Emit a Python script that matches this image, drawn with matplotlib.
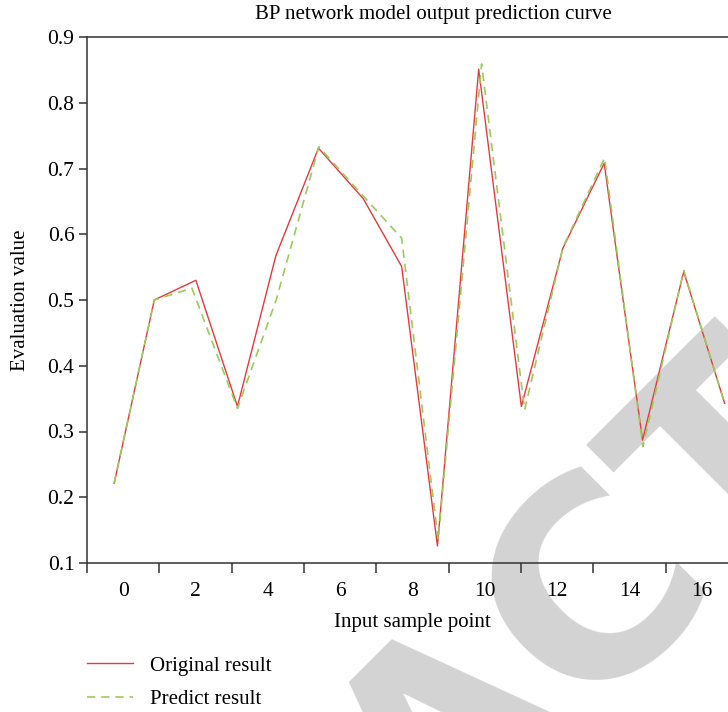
import matplotlib
matplotlib.use("Agg")
import matplotlib.pyplot as plt

# ---- data ----
x_orig = [-0.25, 0.86, 2.01, 3.16, 4.22, 5.40, 6.64, 7.70, 8.69, 9.83, 11.01, 12.16, 13.30, 14.36, 15.50, 16.63]
y_orig = [0.221, 0.500, 0.530, 0.338, 0.567, 0.731, 0.654, 0.551, 0.126, 0.851, 0.338, 0.579, 0.708, 0.287, 0.543, 0.343]

x_pred = [-0.25, 0.86, 1.90, 3.16, 4.23, 5.41, 6.64, 7.70, 8.71, 9.91, 11.10, 12.16, 13.31, 14.37, 15.50, 16.63]
y_pred = [0.221, 0.500, 0.518, 0.335, 0.500, 0.733, 0.658, 0.594, 0.135, 0.859, 0.333, 0.580, 0.716, 0.277, 0.545, 0.343]

tick_major = [-1, 1, 3, 5, 7, 9, 11, 13, 15, 17]
tick_labels_pos = [0, 2, 4, 6, 8, 10, 12, 14, 16]
y_ticks = [0.1, 0.2, 0.3, 0.4, 0.5, 0.6, 0.7, 0.8, 0.9]

plt.rcParams['font.family'] = ['Liberation Serif', 'DejaVu Serif']

W, H = 728, 712
fig = plt.figure(figsize=(W / 100, H / 100), dpi=100)

# axes: left spine at x=87px, top 37px, bottom 563px, right (offscreen) 738px
ax = fig.add_axes([87 / W, 1 - 563 / H, (738 - 87) / W, (563 - 37) / H])
ax.set_facecolor('none')

# watermark behind everything
fig.text(453 / W, 1 - 727 / H, 'RETRACTED', rotation=45, rotation_mode='anchor',
         ha='center', va='center', fontsize=195, fontweight='bold',
         family='DejaVu Sans', color='#d3d3d3', zorder=-5)

ax.plot(x_orig, y_orig, color='#e8393a', lw=1.0, label='Original result')
ax.plot(x_pred, y_pred, color='#9ccb5c', lw=1.2, ls=(0, (5, 3.5)), label='Predict result')

ax.set_xlim(-1, 17)
ax.set_ylim(0.1, 0.9)

ax.set_xticks(tick_major)
ax.set_xticklabels([''] * len(tick_major))
ax.set_xticks(tick_labels_pos, minor=True)
ax.set_xticklabels([str(v) for v in tick_labels_pos], minor=True)
ax.tick_params(axis='x', which='major', length=7, width=1.1, color='#333333', direction='out')
ax.tick_params(axis='x', which='minor', length=0, pad=14, labelsize=15.5)

ax.set_yticks(y_ticks)
ax.set_yticklabels(['%.1f' % v for v in y_ticks])
ax.tick_params(axis='y', length=5.5, width=1.1, color='#333333', pad=3.5, labelsize=15.5)

for s in ['left', 'bottom', 'top', 'right']:
    ax.spines[s].set_color('#333333')
    ax.spines[s].set_linewidth(1.1)

ax.set_xlabel('Input sample point', fontsize=15, labelpad=8)
ax.set_ylabel('Evaluation value', fontsize=15)
ax.yaxis.set_label_coords((30 - 87) / (738 - 87), 0.5)
ax.set_title('BP network model output prediction curve', fontsize=15, x=0.532, pad=13)

fig.legend(loc='upper left', bbox_to_anchor=(87 / W, 1 - 656 / H), frameon=False,
           fontsize=15, handlelength=2.2, handletextpad=0.8, labelspacing=0.68,
           borderpad=0, borderaxespad=0)

fig.savefig('out.png', dpi=100)
